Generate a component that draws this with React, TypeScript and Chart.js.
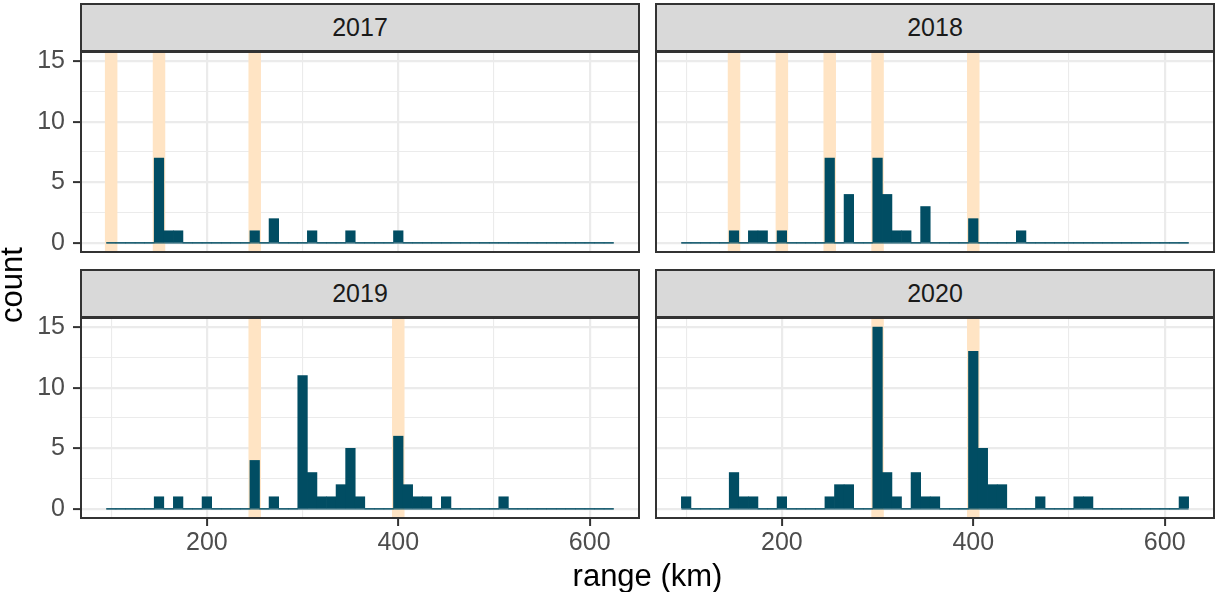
import { useEffect, useRef } from "react";
import { Chart, registerables } from "chart.js";

Chart.register(...registerables);

const W = 1215;
const H = 592;
const FONT = "'Liberation Sans', Arial, Helvetica, sans-serif";

// Histogram bins (centre of each 10 km bin)
const binCenters = [
  100, 110, 120, 130, 140, 150, 160, 170, 180, 190,
  200, 210, 220, 230, 240, 250, 260, 270, 280, 290,
  300, 310, 320, 330, 340, 350, 360, 370, 380, 390,
  400, 410, 420, 430, 440, 450, 460, 470, 480, 490,
  500, 510, 520, 530, 540, 550, 560, 570, 580, 590,
  600, 610, 620,
];
const binWidth = 10;

// Non-empty bins per year and their counts
const bins2017 = [150, 160, 170, 250, 270, 310, 350, 400];
const counts2017 = [7, 1, 1, 1, 2, 1, 1, 1];

const bins2018 = [150, 170, 180, 200, 250, 270, 300, 310, 320, 330, 350, 400, 450];
const counts2018 = [1, 1, 1, 1, 7, 4, 7, 4, 1, 1, 3, 2, 1];

const bins2019 = [150, 170, 200, 250, 270, 300, 310, 320, 330, 340, 350, 360, 400, 410, 420, 430, 450, 510];
const counts2019 = [1, 1, 1, 4, 1, 11, 3, 1, 1, 2, 5, 1, 6, 2, 1, 1, 1, 1];

const bins2020 = [100, 150, 160, 170, 200, 250, 260, 270, 300, 310, 320, 340, 350, 360, 400, 410, 420, 430, 470, 510, 520, 620];
const counts2020 = [1, 3, 1, 1, 1, 1, 2, 2, 15, 3, 1, 3, 1, 1, 13, 5, 2, 2, 1, 1, 1, 1];

// Highlighted ranges (vertical bands)
const marks2017 = [100, 150, 250];
const marks2018 = [150, 200, 250, 300, 400];
const marks2019 = [250, 400];
const marks2020 = [300, 400];

// Axis ticks
const xTickLabels = [200, 400, 600];
const yTickLabels = [0, 5, 10, 15];
const xDomain = [68.5, 651.5];
const yDomain = [-0.75, 15.75];

const BAR = "#014D63";
const BAND = "#FFE4C4";
const GRID = "#EBEBEB";
const INK = "#333333";

const colLeft = [81, 656];
const colRight = [639, 1214];
const rowTop = [52, 318];
const rowBottom = [252, 518];
const stripTop = [3, 269];
const stripH = 49;
const xAxisH = 40;
const yAxisW = 81;

const panels = [
  { year: "2017", bins: bins2017, counts: counts2017, marks: marks2017, col: 0, row: 0 },
  { year: "2018", bins: bins2018, counts: counts2018, marks: marks2018, col: 1, row: 0 },
  { year: "2019", bins: bins2019, counts: counts2019, marks: marks2019, col: 0, row: 1 },
  { year: "2020", bins: bins2020, counts: counts2020, marks: marks2020, col: 1, row: 1 },
];

const near = (a: number, b: number) => Math.abs(a - b) < 1e-6;

const panelPlugin = {
  id: "panelDeco",
  beforeDatasetsDraw(chart: any, _args: any, opts: any) {
    const { ctx, chartArea, scales } = chart;
    ctx.save();
    ctx.beginPath();
    ctx.rect(chartArea.left, chartArea.top, chartArea.right - chartArea.left, chartArea.bottom - chartArea.top);
    ctx.clip();
    ctx.strokeStyle = BAND;
    ctx.lineWidth = 12.5;
    for (const v of opts.marks || []) {
      const px = scales.x.getPixelForValue(v);
      ctx.beginPath();
      ctx.moveTo(px, chartArea.top);
      ctx.lineTo(px, chartArea.bottom);
      ctx.stroke();
    }
    ctx.restore();
  },
  afterDraw(chart: any) {
    const { ctx, chartArea } = chart;
    ctx.save();
    ctx.strokeStyle = INK;
    ctx.lineWidth = 2;
    ctx.strokeRect(chartArea.left, chartArea.top, chartArea.right - chartArea.left, chartArea.bottom - chartArea.top);
    ctx.restore();
  },
};

function buildConfig(p: (typeof panels)[number]): any {
  const bars = binCenters.map((c) => {
    const k = p.bins.indexOf(c);
    return { x: c, y: k >= 0 ? p.counts[k] : 0 };
  });
  const baseline = [
    { x: binCenters[0] - binWidth / 2, y: 0 },
    { x: binCenters[binCenters.length - 1] + binWidth / 2, y: 0 },
  ];
  const showX = p.row === 1;
  const showY = p.col === 0;
  const tickFont = { family: FONT, size: 25, lineHeight: 1.2 };

  return {
    type: "bar",
    data: {
      datasets: [
        {
          type: "bar",
          data: bars,
          backgroundColor: BAR,
          borderWidth: 0,
          barPercentage: 1,
          categoryPercentage: 1,
          order: 2,
        },
        {
          type: "line",
          data: baseline,
          borderColor: BAR,
          borderWidth: 1.2,
          pointRadius: 0,
          fill: false,
          order: 1,
        },
      ],
    },
    options: {
      responsive: false,
      animation: false,
      devicePixelRatio: 1,
      events: [],
      layout: {
        padding: {
          left: p.col === 0 ? colLeft[0] - yAxisW : colLeft[1],
          right: W - colRight[p.col],
          top: rowTop[p.row],
          bottom: H - rowBottom[p.row] - (showX ? xAxisH : 0),
        },
      },
      plugins: {
        legend: { display: false },
        tooltip: { enabled: false },
        panelDeco: { marks: p.marks },
      },
      scales: {
        x: {
          type: "linear",
          min: xDomain[0],
          max: xDomain[1],
          offset: false,
          afterFit: (s: any) => {
            s.height = showX ? xAxisH : 0;
          },
          border: { display: false },
          grid: {
            offset: false,
            color: GRID,
            lineWidth: (ctx: any) => (ctx.tick && xTickLabels.some((t) => near(t, ctx.tick.value)) ? 2.2 : 1.1),
            drawTicks: showX,
            tickLength: 8,
            tickWidth: 2,
            tickColor: (ctx: any) => (ctx.tick && xTickLabels.some((t) => near(t, ctx.tick.value)) ? INK : "rgba(0,0,0,0)"),
          },
          ticks: {
            display: showX,
            stepSize: 100,
            includeBounds: false,
            autoSkip: false,
            maxRotation: 0,
            minRotation: 0,
            padding: 2,
            color: "#4D4D4D",
            font: tickFont,
            callback: (v: any) => (xTickLabels.some((t) => near(t, Number(v))) ? String(v) : ""),
          },
        },
        y: {
          type: "linear",
          min: yDomain[0],
          max: yDomain[1],
          afterFit: (s: any) => {
            s.width = showY ? yAxisW : 0;
          },
          border: { display: false },
          grid: {
            offset: false,
            color: GRID,
            lineWidth: (ctx: any) => (ctx.tick && yTickLabels.some((t) => near(t, ctx.tick.value)) ? 2.2 : 1.1),
            drawTicks: showY,
            tickLength: 8,
            tickWidth: 2,
            tickColor: (ctx: any) => (ctx.tick && yTickLabels.some((t) => near(t, ctx.tick.value)) ? INK : "rgba(0,0,0,0)"),
          },
          ticks: {
            display: showY,
            stepSize: 2.5,
            includeBounds: false,
            autoSkip: false,
            padding: 8,
            color: "#4D4D4D",
            font: tickFont,
            callback: (v: any) => (yTickLabels.some((t) => near(t, Number(v))) ? String(v) : ""),
          },
        },
      },
    },
    plugins: [panelPlugin],
  };
}

export default function App() {
  const refs = useRef<(HTMLCanvasElement | null)[]>([]);

  useEffect(() => {
    const charts = panels.map((p, i) => new Chart(refs.current[i] as HTMLCanvasElement, buildConfig(p)));
    return () => charts.forEach((c) => c.destroy());
  }, []);

  return (
    <div
      style={{
        position: "absolute",
        left: 0,
        top: 0,
        width: W,
        height: H,
        overflow: "hidden",
        background: "#FFFFFF",
        fontFamily: FONT,
      }}
    >
      {panels.map((p, i) => (
        <canvas
          key={p.year}
          ref={(el) => {
            refs.current[i] = el;
          }}
          width={W}
          height={H}
          style={{ position: "absolute", left: 0, top: 0, width: W, height: H }}
        />
      ))}
      {panels.map((p) => (
        <div
          key={"strip-" + p.year}
          style={{
            position: "absolute",
            left: colLeft[p.col] - 1,
            top: stripTop[p.row],
            width: colRight[p.col] - colLeft[p.col] + 2,
            height: stripH,
            boxSizing: "border-box",
            border: `2px solid ${INK}`,
            background: "#D9D9D9",
            color: "#1A1A1A",
            fontSize: 25,
            lineHeight: `${stripH - 4}px`,
            textAlign: "center",
          }}
        >
          {p.year}
        </div>
      ))}
      <div
        style={{
          position: "absolute",
          left: 11.7 - 100,
          top: (rowTop[0] + rowBottom[1]) / 2 - 20,
          width: 200,
          height: 40,
          lineHeight: "40px",
          fontSize: 31,
          textAlign: "center",
          color: "#000000",
          transform: "rotate(-90deg)",
        }}
      >
        count
      </div>
      <div
        style={{
          position: "absolute",
          left: (colLeft[0] + colRight[1]) / 2 - 300,
          top: 556,
          width: 600,
          height: 40,
          lineHeight: "40px",
          fontSize: 31,
          textAlign: "center",
          color: "#000000",
        }}
      >
        range (km)
      </div>
    </div>
  );
}
